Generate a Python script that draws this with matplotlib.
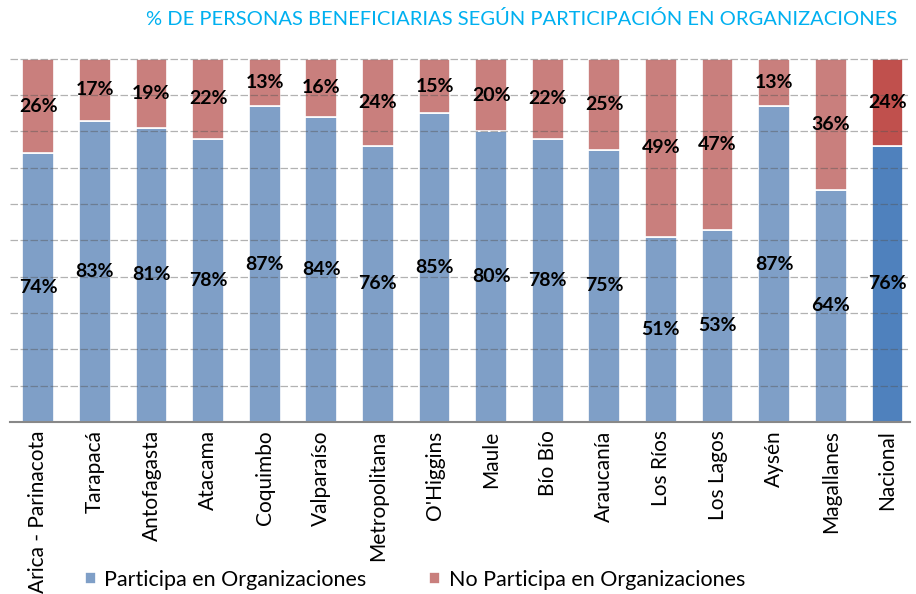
import numpy as np
import matplotlib.pyplot as plt

regiones = ["Arica - Parinacota", "Tarapacá", "Antofagasta", "Atacama", "Coquimbo",
            "Valparaíso", "Metropolitana", "O'Higgins", "Maule", "Bío Bío",
            "Araucanía", "Los Ríos", "Los Lagos", "Aysén", "Magallanes", "Nacional"]
participa = [74, 83, 81, 78, 87, 84, 76, 85, 80, 78, 75, 51, 53, 87, 64, 76]
no_participa = [26, 17, 19, 22, 13, 16, 24, 15, 20, 22, 25, 49, 47, 13, 36, 24]

plt.rcParams['font.family'] = ['Lato', 'DejaVu Sans']

fig = plt.figure(figsize=(9.16, 5.94), dpi=100)
ax = fig.add_axes([10/916, 1-422/594, 900/916, 365/594])

x = np.arange(len(regiones))
azul = ['#7f9fc7'] * (len(regiones) - 1) + ['#4f81bd']
rojo = ['#c97f7d'] * (len(regiones) - 1) + ['#c0504d']

b1 = ax.bar(x, participa, width=0.56, color=azul, edgecolor='white', linewidth=1.2, zorder=2)
b2 = ax.bar(x, no_participa, bottom=participa, width=0.56, color=rojo, edgecolor='white',
            linewidth=1.2, zorder=2)

for i in range(len(regiones)):
    ax.text(x[i], participa[i] / 2, f"{participa[i]}%", ha='center', va='center',
            fontsize=14, fontweight='bold', zorder=4)
    ax.text(x[i], participa[i] + no_participa[i] / 2, f"{no_participa[i]}%", ha='center',
            va='center', fontsize=14, fontweight='bold', zorder=4)

# lineas de grilla
for yv in range(10, 101, 10):
    ax.axhline(yv, color='#555555', lw=0.9, ls=(0, (6, 2)), alpha=0.45, zorder=3)

ax.set_xlim(-0.5, 15.4)
ax.set_ylim(0, 100.5)
ax.set_yticks([])
ax.set_xticks(x)
ax.set_xticklabels(regiones, rotation=90, fontsize=15)
ax.tick_params(axis='x', length=0, pad=6)
for s in ['top', 'right', 'left']:
    ax.spines[s].set_visible(False)
ax.spines['bottom'].set_color('#888888')
ax.spines['bottom'].set_linewidth(1.5)

fig.text(897/916, 1-19/594, "% DE PERSONAS BENEFICIARIAS SEGÚN PARTICIPACIÓN EN ORGANIZACIONES",
         ha='right', va='center', color='#00b0f0', fontsize=14.5)

fig.legend([b1[0], b2[0]], ["Participa en Organizaciones", "No Participa en Organizaciones"],
           loc='center', bbox_to_anchor=(415/916, 1-580/594), ncol=2, frameon=False,
           fontsize=15.5, handlelength=0.5, handleheight=0.5, handletextpad=0.4,
           columnspacing=2.9)

plt.savefig('out.png', dpi=100)
